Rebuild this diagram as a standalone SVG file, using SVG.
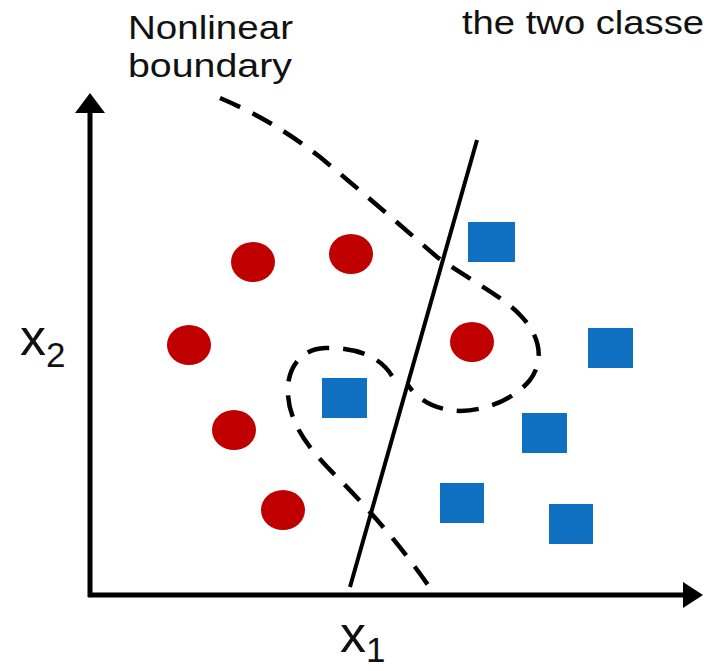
<svg xmlns="http://www.w3.org/2000/svg" width="704" height="671" viewBox="0 0 704 671">
  <style>
    .lbl { font-family: "Liberation Sans", Arial, sans-serif; fill: #111; }
    .red { fill: #C00000; }
    .blue { fill: #0F6FC0; }
    .axis { stroke: #000; stroke-width: 5; fill: none; }
    .sep { stroke: #000; stroke-width: 4; fill: none; }
    .dash { stroke: #000; stroke-width: 4.5; fill: none; stroke-dasharray: 22 14; }
  </style>
  <rect width="704" height="671" fill="#fff"/>

  <g id="labels">
    <text class="lbl" x="128" y="39" font-size="33" textLength="165" lengthAdjust="spacingAndGlyphs">Nonlinear</text>
    <text class="lbl" x="128" y="77" font-size="33" textLength="164" lengthAdjust="spacingAndGlyphs">boundary</text>
    <text class="lbl" x="462" y="34" font-size="34" textLength="242" lengthAdjust="spacingAndGlyphs">the two classe</text>
    <text class="lbl" x="20" y="355" font-size="52">x<tspan font-size="35" dy="12">2</tspan></text>
    <text class="lbl" x="340" y="652" font-size="52">x<tspan font-size="35" dy="10">1</tspan></text>
  </g>

  <g id="axes">
    <line class="axis" x1="90" y1="110" x2="90" y2="597"/>
    <line class="axis" x1="88" y1="595" x2="686" y2="595"/>
    <polygon points="90,93 75,113 105,113" fill="#000"/>
    <polygon points="703,595 683,582 683,608" fill="#000"/>
  </g>

  <g id="connectors">
    <line class="sep" x1="477" y1="140" x2="350" y2="587"/>
    <path class="dash" d="M220,98 C255,113 285,130 320,157 C360,190 400,225 437,257 C470,280 505,298 520,315 C540,335 545,360 530,380 C515,398 490,410 460,411 C435,410 418,400 408,385"/>
    <path class="dash" d="M392,376 C380,356 355,347 325,348 C298,349 286,372 288,395 C290,425 310,450 335,475 C370,510 400,545 428,585"/>
  </g>

  <g id="class-red">
    <ellipse id="r1" class="red" cx="253" cy="262" rx="22" ry="20"/>
    <ellipse id="r2" class="red" cx="351" cy="254" rx="22" ry="20"/>
    <ellipse id="r3" class="red" cx="189" cy="345" rx="22" ry="20"/>
    <ellipse id="r4" class="red" cx="472" cy="342" rx="22" ry="20"/>
    <ellipse id="r5" class="red" cx="234" cy="430" rx="22" ry="20"/>
    <ellipse id="r6" class="red" cx="283" cy="510" rx="22" ry="20"/>
  </g>

  <g id="class-blue">
    <rect id="b1" class="blue" x="468" y="222" width="47" height="40"/>
    <rect id="b2" class="blue" x="322" y="378" width="45" height="40"/>
    <rect id="b3" class="blue" x="588" y="328" width="45" height="40"/>
    <rect id="b4" class="blue" x="522" y="413" width="45" height="40"/>
    <rect id="b5" class="blue" x="440" y="483" width="44" height="40"/>
    <rect id="b6" class="blue" x="549" y="504" width="44" height="40"/>
  </g>
</svg>
